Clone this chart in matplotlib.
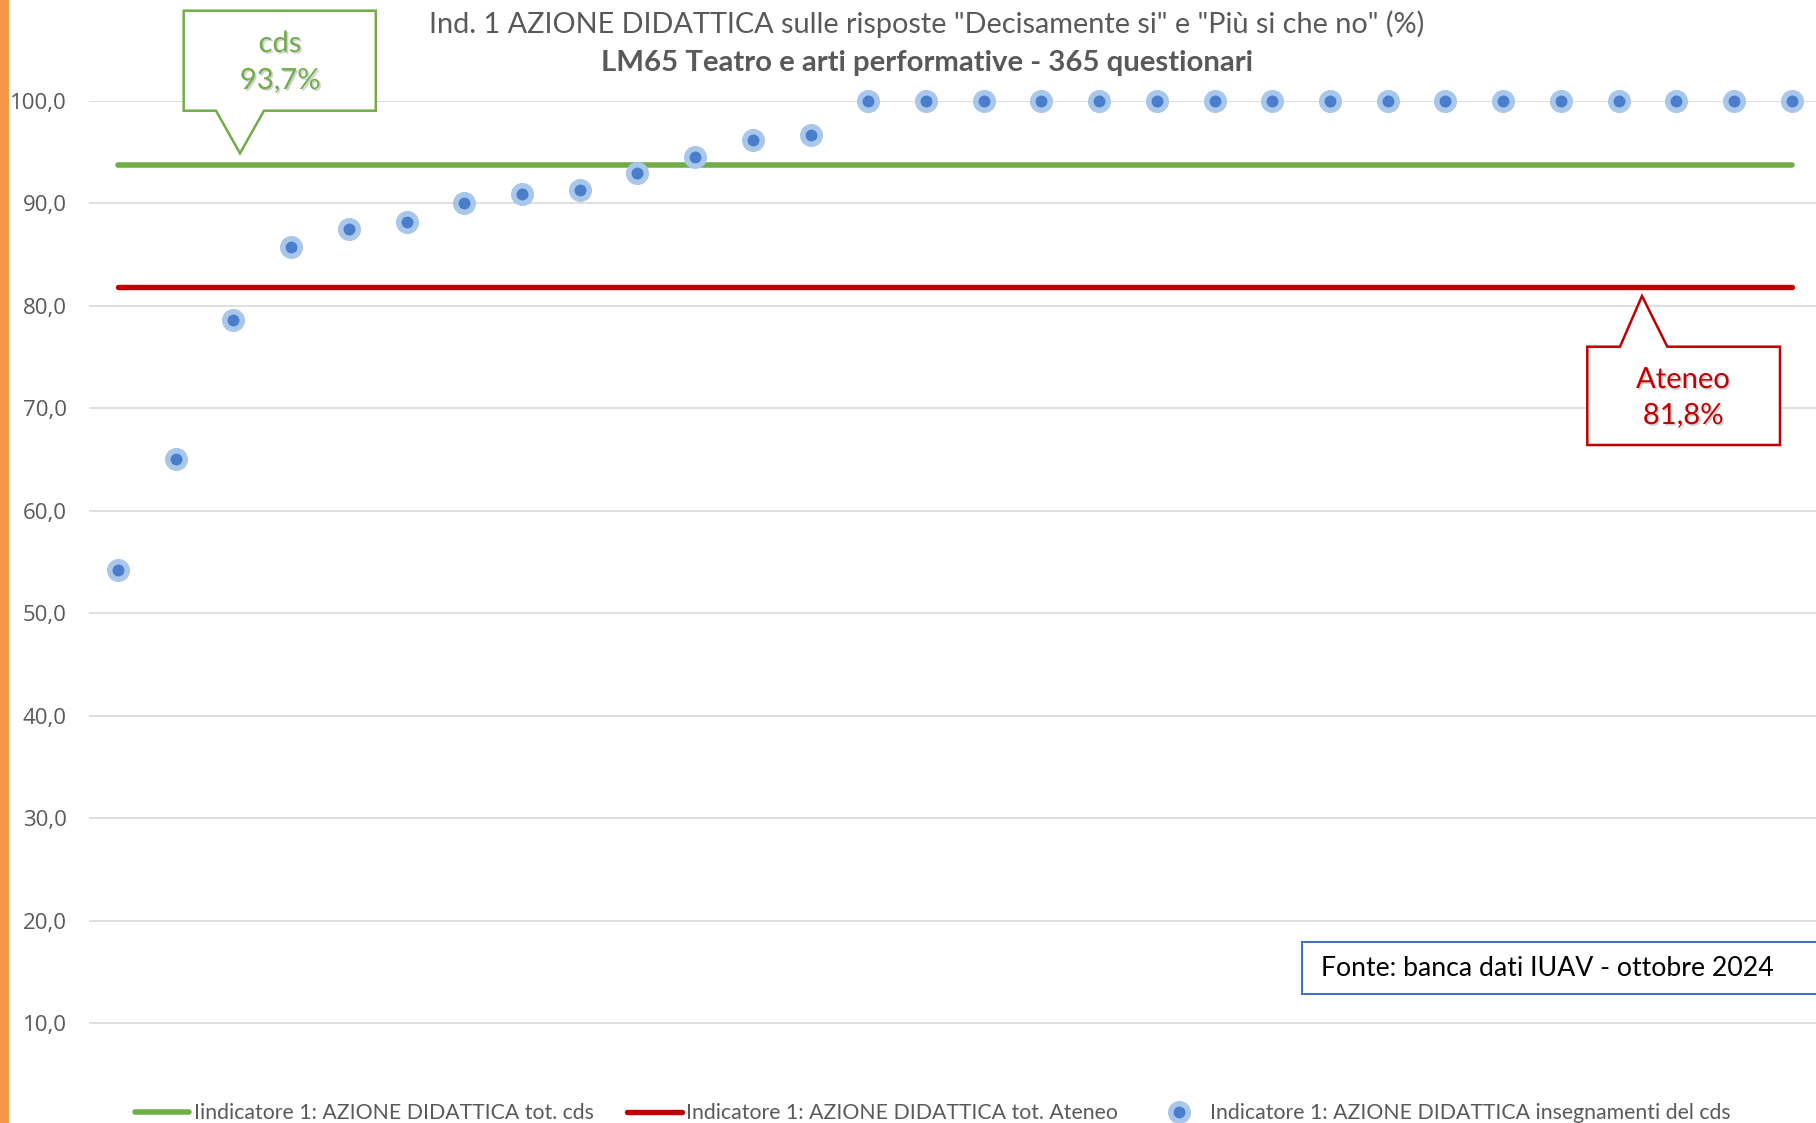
import matplotlib
matplotlib.use("Agg")
import matplotlib.pyplot as plt
import matplotlib.patheffects as pe
from matplotlib.lines import Line2D
from matplotlib.patches import Polygon, Rectangle
from matplotlib.ticker import FuncFormatter, FixedLocator

# ----------------------------------------------------------------------
# Data
# ----------------------------------------------------------------------
course_scores = [54.2, 65.0, 78.6, 85.7, 87.5, 88.2, 90.0, 90.9, 91.3, 92.9,
                 94.5, 96.2, 96.7, 100, 100, 100, 100, 100, 100, 100,
                 100, 100, 100, 100, 100, 100, 100, 100, 100, 100]
cds_total = 93.7
ateneo_total = 81.8
y_ticks = [10, 20, 30, 40, 50, 60, 70, 80, 90, 100]

title_1 = 'Ind. 1 AZIONE DIDATTICA sulle risposte "Decisamente si" e "Più si che no" (%)'
title_2 = "LM65 Teatro e arti performative - 365 questionari"
legend_labels = [
    "Iindicatore 1: AZIONE DIDATTICA tot. cds",
    "Indicatore 1: AZIONE DIDATTICA tot. Ateneo",
    "Indicatore 1: AZIONE DIDATTICA insegnamenti del cds",
]
source_note = "Fonte: banca dati IUAV - ottobre 2024"

# ----------------------------------------------------------------------
# Styling
# ----------------------------------------------------------------------
W, H = 1816, 1123
GREEN = "#70AD47"
RED = "#C00000"
BLUE_IN = "#4a7dcb"
BLUE_OUT = "#a8c7ea"
GRAY = "#595959"
FONT = "Lato"
SHADOW = [pe.withSimplePatchShadow(offset=(1.2, -1.2), shadow_rgbFace="#808080", alpha=0.35)]


def px(x, y):
    """pixel (from top-left) -> figure fraction"""
    return (x / W, 1 - y / H)


def pct(v):
    return f"{v:.1f}".replace(".", ",") + "%"


fig = plt.figure(figsize=(W / 100, H / 100), dpi=100)
fig.patch.set_facecolor("white")

# axes: first category centre at x=118, spacing ~57.7 px; 100 at y=100.7, 0 at y=1125.7
n = len(course_scores)
left, right = 89.2, 1820.6
top, bottom = 100.7, 1125.7
ax = fig.add_axes([left / W, 1 - bottom / H, (right - left) / W, (bottom - top) / H])
ax.set_xlim(-0.5, n - 0.5)
ax.set_ylim(0, 100)
for s in ax.spines.values():
    s.set_visible(False)
ax.set_xticks([])
ax.yaxis.set_major_locator(FixedLocator(y_ticks))
ax.yaxis.set_major_formatter(FuncFormatter(lambda v, p: f"{v:.1f}".replace(".", ",")))
ax.tick_params(axis="y", length=0, pad=16, labelsize=16, labelcolor=GRAY)
for lab in ax.get_yticklabels():
    lab.set_fontfamily("Open Sans")
ax.grid(axis="y", color="#d9d9d9", linewidth=1.2, zorder=0)
ax.set_axisbelow(True)

xs = list(range(n))
ax.plot([xs[0], xs[-1]], [cds_total, cds_total], color=GREEN, lw=4.0,
        solid_capstyle="round", zorder=2)
ax.plot([xs[0], xs[-1]], [ateneo_total, ateneo_total], color=RED, lw=3.9,
        solid_capstyle="round", zorder=2)
ax.plot(xs, course_scores, "o", ms=12.6, mfc=BLUE_IN, mec=BLUE_OUT, mew=4.0,
        linestyle="none", clip_on=False, zorder=3)

# titles
fig.text(*px(927, 24), title_1, ha="center", va="center", fontsize=20.8,
         color=GRAY, family=FONT)
fig.text(*px(927, 63), title_2, ha="center", va="center", fontsize=21.2,
         color=GRAY, family=FONT, fontweight="bold")

# callout cds
cds_shape = [(183.7, 10.7), (375.8, 10.7), (375.8, 110.7), (264, 110.7),
             (240, 153.3), (216, 110.7), (183.7, 110.7)]
fig.patches.append(Polygon([px(*p) for p in cds_shape], closed=True,
                           transform=fig.transFigure, facecolor="white",
                           edgecolor=GREEN, lw=1.8, zorder=5))
fig.text(*px(280, 44), "cds", ha="center", va="center", fontsize=21,
         color=GREEN, family=FONT, zorder=6, path_effects=SHADOW)
fig.text(*px(280, 81), pct(cds_total), ha="center", va="center", fontsize=21,
         color=GREEN, family=FONT, zorder=6, path_effects=SHADOW)

# callout ateneo
at_shape = [(1587.3, 346.7), (1620, 346.7), (1642, 296), (1667.3, 346.7),
            (1780, 346.7), (1780, 445), (1587.3, 445)]
fig.patches.append(Polygon([px(*p) for p in at_shape], closed=True,
                           transform=fig.transFigure, facecolor="white",
                           edgecolor=RED, lw=1.8, zorder=5))
fig.text(*px(1683, 380), "Ateneo", ha="center", va="center", fontsize=21,
         color=RED, family=FONT, zorder=6, path_effects=SHADOW)
fig.text(*px(1683, 416), pct(ateneo_total), ha="center", va="center", fontsize=21,
         color=RED, family=FONT, zorder=6, path_effects=SHADOW)

# source box
x0, y0 = px(1302, 994)
x1, y1 = px(1840, 942)
fig.patches.append(Rectangle((x0, y0), x1 - x0, y1 - y0, transform=fig.transFigure,
                             facecolor="white", edgecolor="#4472C4", lw=1.5, zorder=5))
fig.text(*px(1321, 969), source_note, ha="left", va="center", fontsize=19.2,
         color="black", family=FONT, zorder=6)

# left orange strip
fig.patches.append(Rectangle((0, 0), 8.5 / W, 1, transform=fig.transFigure,
                             facecolor="#F79646", edgecolor="none", zorder=1))

# legend
handles = [
    Line2D([], [], color=GREEN, lw=4.0, solid_capstyle="round"),
    Line2D([], [], color=RED, lw=3.9, solid_capstyle="round"),
    Line2D([], [], marker="o", ms=12.6, mfc=BLUE_IN, mec=BLUE_OUT, mew=4.0,
           linestyle="none"),
]
leg = fig.legend(handles, legend_labels, loc="center", bbox_to_anchor=px(933, 1113),
                 ncol=3, frameon=False, handlelength=2.55,
                 handletextpad=0.2, columnspacing=1.6, borderaxespad=0,
                 prop={"family": FONT, "size": 15.3})
for t in leg.get_texts():
    t.set_color(GRAY)

fig.savefig("out.png", dpi=100)
